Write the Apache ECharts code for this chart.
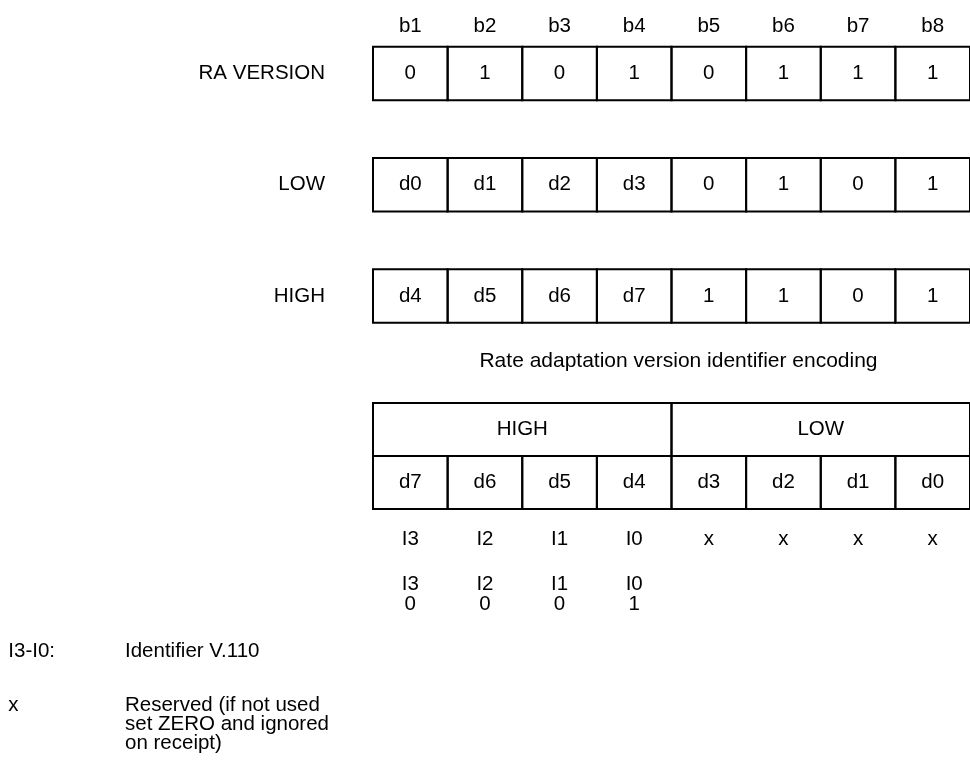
<!DOCTYPE html>
<html><head><meta charset="utf-8">
<script src="https://cdn.jsdelivr.net/npm/echarts@6/dist/echarts.min.js"></script>
<style>html,body{margin:0;padding:0;background:#fff}#c{width:970px;height:765px}</style>
</head><body><div id="c"></div>
<script>
// ---- data ----
const bitColumns = ['b1','b2','b3','b4','b5','b6','b7','b8'];
const rowNames = ['RA VERSION','LOW','HIGH'];
const raVersionBits = ['0','1','0','1','0','1','1','1'];
const lowBits = ['d0','d1','d2','d3','0','1','0','1'];
const highBits = ['d4','d5','d6','d7','1','1','0','1'];
const groupNames = ['HIGH','LOW'];
const groupSpan = 4;
const dataBits = ['d7','d6','d5','d4','d3','d2','d1','d0'];
const bitMeaning = ['I3','I2','I1','I0','x','x','x','x'];
const identifierNames = ['I3','I2','I1','I0'];
const identifierValue = ['0','0','0','1'];
const caption = 'Rate adaptation version identifier encoding';
const legendKeys = ['I3-I0:','x'];
const legendTexts = [['Identifier V.110'],['Reserved (if not used','set ZERO and ignored','on receipt)']];

// ---- style ----
const FONT = "'Liberation Sans', Arial, Helvetica, sans-serif";
const FS = 20.5;
const INK = '#000';
const LW = 2;
const CELL_H = 53.5;
const BOT_CELL_H = 53;

const topRows = [raVersionBits, lowBits, highBits];

function txt(text, x, y, align, fs) {
  return {type:'text', style:{text:text, x:x, y:y, align:align||'center', verticalAlign:'middle',
    fontSize:fs||FS, fontFamily:FONT, fill:INK, lineHeight:19.5}};
}
function cell(x, y, w, h) {
  return {type:'rect', shape:{x:x, y:y, width:w, height:h},
    style:{fill:'none', stroke:INK, lineWidth:LW}};
}

const topData = [];
topRows.forEach((row, r) => row.forEach((v, c) => topData.push([c, r])));

const bottomData = [];
groupNames.forEach((g, i) => bottomData.push([i*groupSpan, 0, i]));
dataBits.forEach((d, c) => bottomData.push([c, 1, c]));

const belowData = [];
bitMeaning.forEach((m, c) => belowData.push([c, 0, c]));
identifierNames.forEach((m, c) => belowData.push([c, 1, c]));

const chart = echarts.init(document.getElementById('c'), null, {renderer:'canvas'});
const L = 373, W = 606.8;
const hidden = {show:false};
chart.setOption({
  animation:false,
  backgroundColor:'#fff',
  grid:[
    {left:L, width:W, top:17.875, height:333.75},
    {left:L, width:W, top:403, height:106},
    {left:L, width:W, top:512.125, height:109.5}
  ],
  xAxis:[
    {type:'category', gridIndex:0, data:bitColumns, position:'top',
      axisLine:hidden, axisTick:hidden, splitLine:hidden,
      axisLabel:{margin:-8.5, verticalAlign:'middle', fontSize:FS, fontFamily:FONT, color:INK}},
    {type:'category', gridIndex:1, data:dataBits, show:false},
    {type:'category', gridIndex:2, data:bitMeaning.map((m,i)=>String(i)), show:false}
  ],
  yAxis:[
    {type:'category', gridIndex:0, data:rowNames, inverse:true,
      axisLine:hidden, axisTick:hidden, splitLine:hidden,
      axisLabel:{margin:48, fontSize:FS, fontFamily:FONT, color:INK}},
    {type:'category', gridIndex:1, data:['group','bits'], inverse:true, show:false},
    {type:'category', gridIndex:2, data:['meaning','identifier'], inverse:true, show:false}
  ],
  series:[
    {type:'custom', xAxisIndex:0, yAxisIndex:0, data:topData, silent:true,
      renderItem:function(params, api){
        const c = api.value(0), r = api.value(1);
        const p = api.coord([c, r]);
        const bw = api.size([1,1])[0];
        return {type:'group', children:[
          cell(p[0]-bw/2, p[1]-CELL_H/2, bw, CELL_H),
          txt(topRows[r][c], p[0], p[1])
        ]};
      }},
    {type:'custom', xAxisIndex:1, yAxisIndex:1, data:bottomData, silent:true,
      renderItem:function(params, api){
        const c = api.value(0), r = api.value(1), k = api.value(2);
        const p = api.coord([c, r]);
        const bw = api.size([1,1])[0];
        if (r === 0) {
          const x0 = p[0]-bw/2, w = bw*groupSpan;
          return {type:'group', children:[
            cell(x0, p[1]-BOT_CELL_H/2, w, BOT_CELL_H),
            txt(groupNames[k], x0+w/2, p[1])
          ]};
        }
        return {type:'group', children:[
          cell(p[0]-bw/2, p[1]-BOT_CELL_H/2, bw, BOT_CELL_H),
          txt(dataBits[k], p[0], p[1])
        ]};
      }},
    {type:'custom', xAxisIndex:2, yAxisIndex:2, data:belowData, silent:true,
      renderItem:function(params, api){
        const c = api.value(0), r = api.value(1), k = api.value(2);
        const p = api.coord([c, r]);
        const t = r === 0 ? bitMeaning[k] : identifierNames[k] + '\n' + identifierValue[k];
        return txt(t, p[0], p[1]);
      }}
  ],
  graphic:[
    txt(caption, 678.5, 361.5, 'center', 21),
    txt(legendKeys[0], 8.3, 651.5, 'left'),
    txt(legendTexts[0][0], 125, 651.5, 'left'),
    txt(legendKeys[1], 8.3, 705.5, 'left'),
    txt(legendTexts[1][0], 125, 705.5, 'left'),
    txt(legendTexts[1][1], 125, 724.5, 'left'),
    txt(legendTexts[1][2], 125, 743.5, 'left')
  ]
});
</script></body></html>
